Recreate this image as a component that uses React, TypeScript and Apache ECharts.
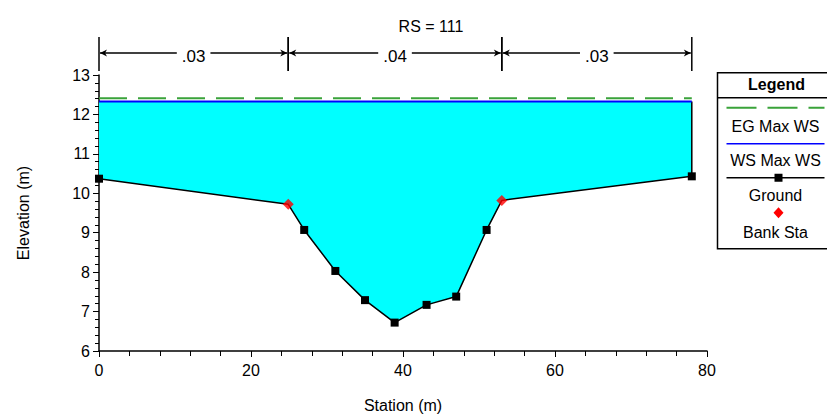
import React, { useEffect, useRef } from "react";
import * as echarts from "echarts";

// Ground profile (station m, elevation m)
const stations = [0, 24.9, 27, 31.1, 35, 38.9, 43.1, 47, 51, 53, 78];
const elevations = [10.37, 9.72, 9.07, 8.03, 7.29, 6.72, 7.17, 7.38, 9.07, 9.82, 10.43];
// Bank stations
const bankStations = [24.9, 53];
const bankElevations = [9.72, 9.82];
// Water surfaces
const wsMaxElev = 12.33;
const egMaxElev = 12.41;
// Manning's n breaks and values
const nBreaks = [0, 24.9, 53, 78];
const nValues = [".03", ".04", ".03"];
// Axis settings
const xMin = 0, xMax = 80, xInterval = 20;
const yMin = 6, yMax = 13, yInterval = 1;
const title = "RS = 111";
const legendItems = ["EG Max WS", "WS Max WS", "Ground", "Bank Sta"];

const FONT = "'Liberation Sans', Arial, sans-serif";

export default function App() {
  const ref = useRef<HTMLDivElement>(null);
  useEffect(() => {
    if (!ref.current) return;
    const chart = echarts.init(ref.current, null, { renderer: "svg" });
    const groundData = stations.map((s, i) => {
      const isBank = bankStations.includes(s);
      return isBank ? { value: [s, elevations[i]], symbol: "none" } : { value: [s, elevations[i]] };
    });
    const lastX = stations[stations.length - 1];
    const firstX = stations[0];
    const option: any = {
      animation: false,
      backgroundColor: "#ffffff",
      textStyle: { fontFamily: FONT },
      title: {
        text: title,
        left: 426,
        top: 13,
        textAlign: "center",
        textStyle: { fontFamily: FONT, fontSize: 16, fontWeight: "normal", color: "#000" },
      },
      grid: { left: 99, right: 120, top: 75, bottom: 63 },
      xAxis: {
        type: "value",
        min: xMin,
        max: xMax,
        interval: xInterval,
        name: "Station (m)",
        nameLocation: "middle",
        nameGap: 46,
        nameTextStyle: { fontFamily: FONT, fontSize: 16, color: "#000" },
        axisLine: { show: true, onZero: false, lineStyle: { color: "#000", width: 1.5 } },
        axisTick: { show: true, length: 6, lineStyle: { color: "#000" } },
        minorTick: { show: true, splitNumber: 5, length: 5, lineStyle: { color: "#000" } },
        axisLabel: { fontFamily: FONT, fontSize: 16, color: "#000", margin: 11 },
        splitLine: { show: false },
      },
      yAxis: {
        type: "value",
        min: yMin,
        max: yMax,
        interval: yInterval,
        name: "Elevation (m)",
        nameLocation: "middle",
        nameGap: 68,
        nameRotate: 90,
        nameTextStyle: { fontFamily: FONT, fontSize: 16, color: "#000" },
        axisLine: { show: true, onZero: false, lineStyle: { color: "#000", width: 1.5 } },
        axisTick: { show: true, length: 6, lineStyle: { color: "#000" } },
        minorTick: { show: true, splitNumber: 5, length: 4, lineStyle: { color: "#000" } },
        axisLabel: { fontFamily: FONT, fontSize: 16, color: "#000", margin: 9 },
        splitLine: { show: false },
      },
      series: [
        {
          type: "custom",
          name: "water",
          z: 1,
          clip: false,
          data: [[firstX, wsMaxElev]],
          renderItem: (params: any, api: any) => {
            const pts = stations.map((s, i) => api.coord([s, elevations[i]]));
            pts.push(api.coord([lastX, wsMaxElev]));
            pts.push(api.coord([firstX, wsMaxElev]));
            const r1 = api.coord([lastX, elevations[elevations.length - 1]]);
            const r2 = api.coord([lastX, wsMaxElev]);
            return {
              type: "group",
              children: [
                { type: "polygon", shape: { points: pts }, style: { fill: "#00ffff", stroke: "none" } },
                {
                  type: "line",
                  shape: { x1: r1[0], y1: r1[1], x2: r2[0], y2: r2[1] },
                  style: { stroke: "#000", lineWidth: 1.5 },
                },
              ],
            };
          },
        },
        {
          type: "custom",
          name: "n values",
          z: 5,
          clip: false,
          data: nValues.map((_, i) => [nBreaks[i], nBreaks[i + 1], i]),
          renderItem: (params: any, api: any) => {
            const a = api.coord([api.value(0), yMax]);
            const b = api.coord([api.value(1), yMax]);
            const yTop = a[1];
            const barT = yTop - 38;
            const barB = yTop - 4;
            const ly = yTop - 22;
            const x1 = a[0];
            const x2 = b[0];
            const idx = api.value(2);
            const ah = 7;
            return {
              type: "group",
              children: [
                { type: "line", shape: { x1, y1: barT, x2: x1, y2: barB }, style: { stroke: "#000", lineWidth: 1.5 } },
                { type: "line", shape: { x1: x2, y1: barT, x2, y2: barB }, style: { stroke: "#000", lineWidth: 1.5 } },
                { type: "line", shape: { x1: x1 + 1, y1: ly, x2: x2 - 1, y2: ly }, style: { stroke: "#000", lineWidth: 1.5 } },
                {
                  type: "polygon",
                  shape: { points: [[x1 + 1, ly], [x1 + 1 + ah, ly - 3.5], [x1 + ah - 1, ly], [x1 + 1 + ah, ly + 3.5]] },
                  style: { fill: "#000" },
                },
                {
                  type: "polygon",
                  shape: { points: [[x2 - 1, ly], [x2 - 1 - ah, ly - 3.5], [x2 - ah + 1, ly], [x2 - 1 - ah, ly + 3.5]] },
                  style: { fill: "#000" },
                },
                {
                  type: "text",
                  x: (x1 + x2) / 2,
                  y: ly + 3,
                  style: {
                    text: nValues[idx],
                    fontFamily: FONT,
                    fontSize: 17,
                    fill: "#000",
                    align: "center",
                    verticalAlign: "middle",
                    backgroundColor: "#fff",
                    padding: [0, 5],
                  },
                },
              ],
            };
          },
        },
        {
          type: "line",
          name: "EG Max WS",
          z: 3,
          data: [[firstX, egMaxElev], [lastX, egMaxElev]],
          symbol: "none",
          lineStyle: { color: "#3aa33a", width: 2, type: [28, 11] },
        },
        {
          type: "line",
          name: "WS Max WS",
          z: 3,
          data: [[firstX, wsMaxElev], [lastX, wsMaxElev]],
          symbol: "none",
          lineStyle: { color: "#0000ff", width: 2 },
        },
        {
          type: "line",
          name: "Ground",
          z: 4,
          data: groundData,
          symbol: "rect",
          symbolSize: 8,
          itemStyle: { color: "#000" },
          lineStyle: { color: "#000", width: 1.5 },
        },
        {
          type: "scatter",
          name: "Bank Sta",
          z: 6,
          data: bankStations.map((s, i) => [s, bankElevations[i]]),
          symbol: "diamond",
          symbolSize: 11,
          itemStyle: { color: "#ff0000" },
        },
      ],
      graphic: [
        {
          type: "group",
          left: 715,
          top: 72,
          children: [
            { type: "rect", shape: { x: 0, y: 0, width: 125, height: 176 }, style: { fill: "#fff", stroke: "#000", lineWidth: 1.5 } },
            { type: "line", shape: { x1: 0, y1: 25, x2: 125, y2: 25 }, style: { stroke: "#000", lineWidth: 1.5 } },
            { type: "text", x: 59, y: 12, style: { text: "Legend", fontFamily: FONT, fontSize: 16, fontWeight: "bold", fill: "#000", align: "center", verticalAlign: "middle" } },
            { type: "line", shape: { x1: 9, y1: 35, x2: 107, y2: 35 }, style: { stroke: "#3aa33a", lineWidth: 2, lineDash: [30, 11] } },
            { type: "text", x: 58, y: 54, style: { text: legendItems[0], fontFamily: FONT, fontSize: 16, fill: "#000", align: "center", verticalAlign: "middle" } },
            { type: "line", shape: { x1: 9, y1: 71, x2: 107, y2: 71 }, style: { stroke: "#0000ff", lineWidth: 1.5 } },
            { type: "text", x: 58, y: 88, style: { text: legendItems[1], fontFamily: FONT, fontSize: 16, fill: "#000", align: "center", verticalAlign: "middle" } },
            { type: "line", shape: { x1: 9, y1: 105, x2: 107, y2: 105 }, style: { stroke: "#000", lineWidth: 1.5 } },
            { type: "rect", shape: { x: 57, y: 101, width: 8, height: 8 }, style: { fill: "#000" } },
            { type: "text", x: 58, y: 123, style: { text: legendItems[2], fontFamily: FONT, fontSize: 16, fill: "#000", align: "center", verticalAlign: "middle" } },
            { type: "polygon", shape: { points: [[61, 134.5], [66, 140], [61, 145.5], [56, 140]] }, style: { fill: "#ff0000" } },
            { type: "text", x: 58, y: 160, style: { text: legendItems[3], fontFamily: FONT, fontSize: 16, fill: "#000", align: "center", verticalAlign: "middle" } },
          ],
        },
      ],
    };
    chart.setOption(option);
    return () => chart.dispose();
  }, []);
  return (
    <div
      ref={ref}
      style={{ position: "fixed", left: 0, top: 0, width: 827, height: 418, background: "#fff" }}
    />
  );
}
